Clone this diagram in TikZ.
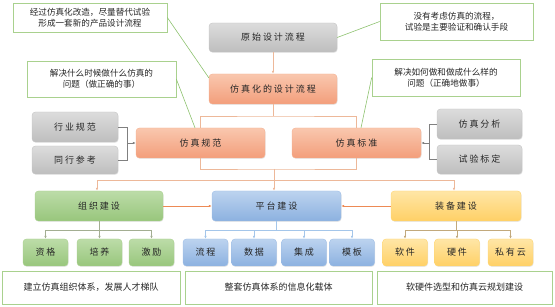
\documentclass[tikz,border=0pt]{standalone}
\usepackage{fontspec}
\newfontfamily\cjk{Noto Sans CJK SC}
\newfontfamily\cjksp[LetterSpace=22]{Noto Sans CJK SC}
\usetikzlibrary{arrows.meta,shadows}
\definecolor{txt}{HTML}{262626}
\definecolor{grayT}{HTML}{DCDCDC}\definecolor{grayB}{HTML}{BEBEBE}\definecolor{grayD}{HTML}{C4C4C4}
\definecolor{oraT}{HTML}{F9C7AE}\definecolor{oraB}{HTML}{F39E7B}\definecolor{oraD}{HTML}{F4B090}
\definecolor{grnT}{HTML}{BCDCA8}\definecolor{grnB}{HTML}{98C67C}\definecolor{grnD}{HTML}{A9D18E}
\definecolor{bluT}{HTML}{BCD3EF}\definecolor{bluB}{HTML}{8CB1E0}\definecolor{bluD}{HTML}{9DBDE6}
\definecolor{yelT}{HTML}{FFE6A6}\definecolor{yelB}{HTML}{FFD066}\definecolor{yelD}{HTML}{FFD56F}
\definecolor{callD}{HTML}{A9D18E}\definecolor{callL}{HTML}{8DC26F}
\definecolor{flowL}{HTML}{EDB899}\definecolor{brkL}{HTML}{808080}\definecolor{hotL}{HTML}{ED8A55}
\definecolor{zzL}{HTML}{A3AE92}\definecolor{ptL}{HTML}{A4C6EA}\definecolor{zbL}{HTML}{C2A97C}
\tikzset{
  base/.style={rounded corners=3.5pt, inner sep=0pt, text=txt, font=\cjksp\fontsize{9}{10}\selectfont,
    drop shadow={opacity=0.18, shadow xshift=0.6pt, shadow yshift=-0.9pt}},
  graybox/.style={base, top color=grayT, bottom color=grayB, draw=grayD},
  orabox/.style={base, top color=oraT, bottom color=oraB, draw=oraD},
  grnbox/.style={base, top color=grnT, bottom color=grnB, draw=grnD},
  blubox/.style={base, top color=bluT, bottom color=bluB, draw=bluD},
  yelbox/.style={base, top color=yelT, bottom color=yelB, draw=yelD},
  callout/.style={draw=callD, fill=white, line width=0.6pt, inner sep=0pt, text=txt, align=center,
    font=\cjk\fontsize{8.6}{11}\selectfont},
  tip/.style={-{Latex[length=3pt,width=2.6pt]}},
}
\begin{document}
\begin{tikzpicture}[x=1pt,y=-1pt]
\useasboundingbox (0,0) rectangle (555,307);
% callouts
\node[callout, minimum width=154pt, minimum height=29pt] (cl1) at (90,17.5) {经过仿真化改造，尽量替代试验\\形成一套新的产品设计流程};
\node[callout, minimum width=153pt, minimum height=37pt] (cr1) at (456.5,21.5) {没有考虑仿真的流程，\\试验是主要验证和确认手段};
\node[callout, minimum width=149pt, minimum height=36pt] (cl2) at (101.5,79) {解决什么时候做什么仿真的\\问题（做正确的事）};
\node[callout, minimum width=148pt, minimum height=37pt] (cr2) at (446,77.5) {解决如何做和做成什么样的\\问题（正确地做事）};
% main flow
\node[graybox, minimum width=128pt, minimum height=29pt] (orig) at (273,37.5) {原始设计流程};
\node[orabox, minimum width=128pt, minimum height=30pt] (simf) at (273,89) {仿真化的设计流程};
\node[graybox, minimum width=86pt, minimum height=30pt] (hygf) at (75,127) {行业规范};
\node[graybox, minimum width=86pt, minimum height=28pt] (txck) at (75,160) {同行参考};
\node[orabox, minimum width=129pt, minimum height=30pt] (fzgf) at (200.5,143) {仿真规范};
\node[orabox, minimum width=129pt, minimum height=30pt] (fzbz) at (356.5,143) {仿真标准};
\node[graybox, minimum width=85pt, minimum height=30pt] (fzfx) at (479.5,124) {仿真分析};
\node[graybox, minimum width=85pt, minimum height=29pt] (sybd) at (479.5,159.5) {试验标定};
\node[grnbox, minimum width=128pt, minimum height=30pt] (zz) at (99,206) {组织建设};
\node[blubox, minimum width=129pt, minimum height=30pt] (pt) at (276.5,206) {平台建设};
\node[yelbox, minimum width=130pt, minimum height=30pt] (zb) at (456,206) {装备建设};
% children
\tikzset{kid/.style={minimum width=45pt, minimum height=27pt}}
\node[grnbox,kid] (k1) at (45.5,252.5) {资格};
\node[grnbox,kid] (k2) at (99.5,252.5) {培养};
\node[grnbox,kid] (k3) at (151.5,252.5) {激励};
\node[blubox,kid] (k4) at (205.5,252.5) {流程};
\node[blubox,kid] (k5) at (254,252.5) {数据};
\node[blubox,kid] (k6) at (304,252.5) {集成};
\node[blubox,kid] (k7) at (352,252.5) {模板};
\node[yelbox,kid] (k8) at (405,252.5) {软件};
\node[yelbox,kid] (k9) at (457,252.5) {硬件};
\node[yelbox,kid] (k10) at (510.5,252.5) {私有云};
% bottom boxes
\node[callout, font=\cjk\fontsize{9}{11}\selectfont, minimum width=178pt, minimum height=33pt] (b1) at (91,287.5) {建立仿真组织体系，发展人才梯队};
\node[callout, font=\cjk\fontsize{9}{11}\selectfont, minimum width=187pt, minimum height=33pt] (b2) at (278.5,287.5) {整套仿真体系的信息化载体};
\node[callout, font=\cjk\fontsize{9}{11}\selectfont, minimum width=175pt, minimum height=33pt] (b3) at (464.5,287.5) {软硬件选型和仿真云规划建设};
% callout lines
\draw[callL, line width=0.6pt] (cl1.east) -- ([yshift=-4pt]simf.north west);
\draw[callL, line width=0.6pt] (cr1.west) -- (orig.east);
\draw[callL, line width=0.6pt] (cl2.east) -- ([xshift=-5.5pt]fzgf.north);
\draw[callL, line width=0.6pt] (cr2.west) -- ([xshift=4.5pt]fzbz.north);
% flow
\draw[flowL, line width=0.6pt, tip] (orig.south) -- (simf.north);
\coordinate (j1) at (273,116);
\draw[flowL, line width=0.6pt] (simf.south) -- (j1);
\draw[flowL, line width=0.6pt] (fzgf.north) |- (j1) -| (fzbz.north);
\coordinate (j2) at (274,169);
\draw[flowL, line width=0.6pt] (fzgf.south) |- (j2) -| (fzbz.south);
\draw[flowL, line width=0.6pt, tip] (j2) -- (j2 |- pt.north);
\coordinate (j3) at (274,180);
\draw[flowL, line width=0.6pt, tip] (j3) -| ([xshift=-2pt]zz.north);
\draw[flowL, line width=0.6pt, tip] (j3) -| ([xshift=-2pt]zb.north);
% brackets
\coordinate (bl) at (127,143);
\draw[brkL, line width=0.6pt] (hygf.east) -| (bl);
\draw[brkL, line width=0.6pt] (txck.east) -| (bl);
\draw[brkL, line width=0.6pt, tip] (bl) -- (fzgf.west);
\coordinate (br) at (429,143);
\draw[brkL, line width=0.6pt] (fzfx.west) -| (br);
\draw[brkL, line width=0.6pt] (sybd.west) -| (br);
\draw[brkL, line width=0.6pt, tip] (br) -- (fzbz.east);
% side arrows
\draw[hotL, line width=0.7pt, tip] (zz.east) -- (pt.west);
\draw[hotL, line width=0.7pt, tip] (zb.west) -- (pt.east);
% children connectors
\foreach \k in {k1,k2,k3}{\draw[zzL, line width=0.6pt, tip] (zz.south) -- ++(0,9) -| (\k.north);}
\foreach \k in {k4,k5,k6,k7}{\draw[ptL, line width=0.6pt, tip] (pt.south) -- ++(0,9) -| (\k.north);}
\foreach \k in {k8,k9,k10}{\draw[zbL, line width=0.6pt, tip] (zb.south) -- ++(0,9) -| (\k.north);}
\end{tikzpicture}
\end{document}
